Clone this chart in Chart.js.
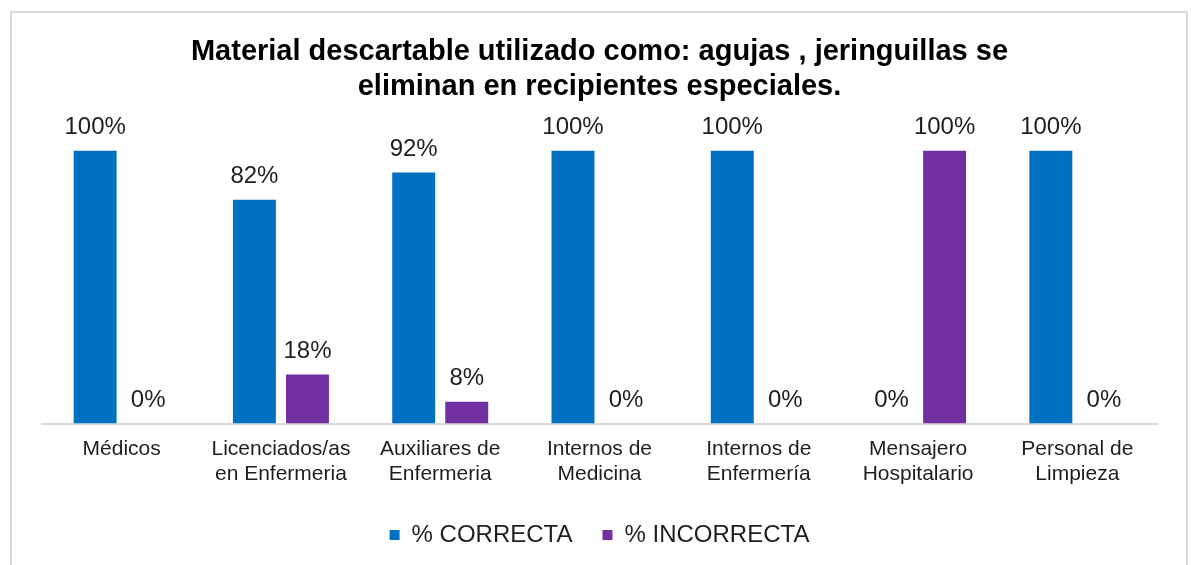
<!DOCTYPE html>
<html lang="es">
<head>
  <meta charset="UTF-8" />
  <title>Material descartable</title>
  <script src="https://cdn.jsdelivr.net/npm/chart.js"></script>
  <style>
    html, body { margin: 0; padding: 0; background: #fff; overflow: hidden; }
    #frame { position: absolute; left: 10px; top: 11px; width: 1178px; height: 600px;
             box-sizing: border-box; border: 2px solid #d9d9d9; }
    #chart { position: absolute; left: 0; top: 0; }
  </style>
</head>
<body>
  <div id="frame"></div>
  <canvas id="chart" width="1191" height="565"></canvas>

  <script>
    const categories = [
      ['Médicos'],
      ['Licenciados/as', 'en Enfermeria'],
      ['Auxiliares de', 'Enfermeria'],
      ['Internos de', 'Medicina'],
      ['Internos de', 'Enfermería'],
      ['Mensajero', 'Hospitalario'],
      ['Personal de', 'Limpieza']
    ];
    const correcta = [100, 82, 92, 100, 100, 0, 100];
    const incorrecta = [0, 18, 8, 0, 0, 100, 0];
    const seriesNames = ['% CORRECTA', '% INCORRECTA'];
    const titleLines = ['Material descartable utilizado como: agujas , jeringuillas se', 'eliminan en recipientes especiales.'];

    const FONT = "'Liberation Sans', Arial, sans-serif";

    // etiquetas de valor encima de cada barra
    const valueLabels = {
      id: 'valueLabels',
      afterDatasetsDraw(chart) {
        const ctx = chart.ctx;
        ctx.save();
        ctx.font = '24px ' + FONT;
        ctx.fillStyle = '#1e1e1e';
        ctx.textAlign = 'center';
        ctx.textBaseline = 'middle';
        chart.data.datasets.forEach((ds, i) => {
          chart.getDatasetMeta(i).data.forEach((bar, j) => {
            ctx.fillText(ds.data[j] + '%', bar.x, bar.y - 23);
          });
        });
        ctx.restore();
      }
    };

    new Chart(document.getElementById('chart'), {
      type: 'bar',
      data: {
        labels: categories,
        datasets: [
          { label: seriesNames[0], data: correcta, backgroundColor: '#0070c0' },
          { label: seriesNames[1], data: incorrecta, backgroundColor: '#7030a0' }
        ]
      },
      options: {
        responsive: false,
        animation: false,
        devicePixelRatio: 1,
        categoryPercentage: 0.666,
        barPercentage: 0.81,
        layout: { padding: { left: 42, right: 34, top: 0, bottom: 8 } },
        scales: {
          y: { display: false, min: 0, max: 100 },
          x: {
            grid: { display: false, drawTicks: false },
            border: { display: true, color: '#d9d9d9', width: 2 },
            ticks: { color: '#1e1e1e', padding: 13, font: { family: FONT, size: 21 }, maxRotation: 0, autoSkip: false },
            afterFit(scale) { scale.height -= 7; }
          }
        },
        plugins: {
          title: {
            display: true,
            text: titleLines,
            color: '#000',
            font: { family: FONT, size: 29, weight: 'bold', lineHeight: 1.2 },
            padding: { top: 35, bottom: 46 }
          },
          legend: {
            position: 'bottom',
            labels: {
              color: '#1e1e1e',
              boxWidth: 10,
              boxHeight: 10,
              padding: 30,
              font: { family: FONT, size: 24 }
            }
          },
          tooltip: { enabled: false }
        }
      },
      plugins: [valueLabels]
    });
  </script>
</body>
</html>
